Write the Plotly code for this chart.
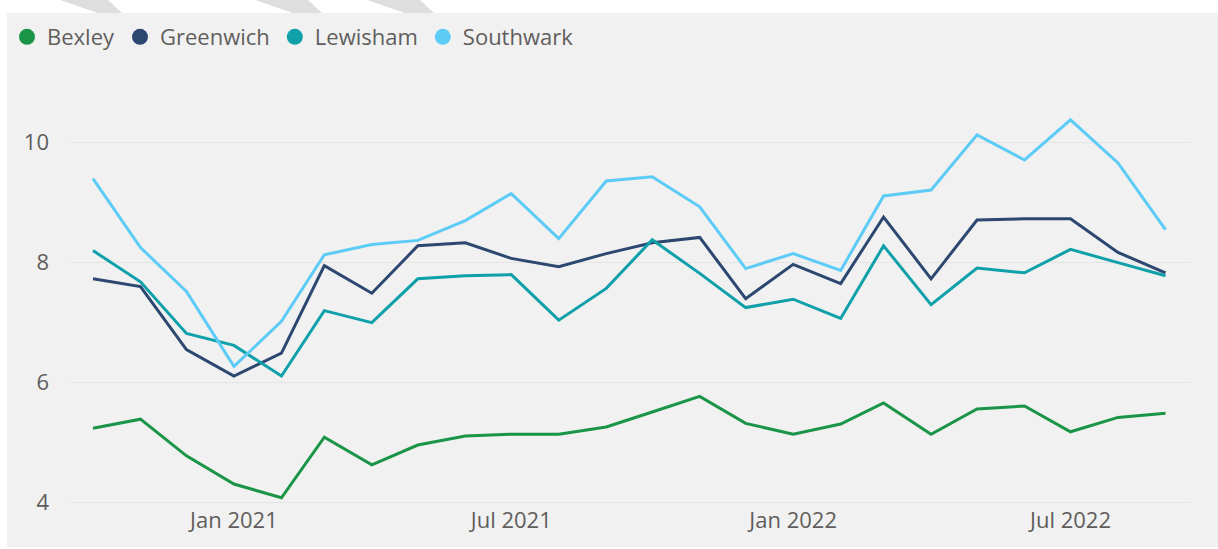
import plotly.graph_objects as go

months = [
    "2020-10-01", "2020-11-01", "2020-12-01", "2021-01-01", "2021-02-01", "2021-03-01",
    "2021-04-01", "2021-05-01", "2021-06-01", "2021-07-01", "2021-08-01", "2021-09-01",
    "2021-10-01", "2021-11-01", "2021-12-01", "2022-01-01", "2022-02-01", "2022-03-01",
    "2022-04-01", "2022-05-01", "2022-06-01", "2022-07-01", "2022-08-01", "2022-09-01",
]

bexley = [5.23, 5.38, 4.77, 4.30, 4.07, 5.08, 4.62, 4.95, 5.10, 5.13, 5.13, 5.25,
          5.50, 5.76, 5.31, 5.13, 5.30, 5.65, 5.13, 5.55, 5.60, 5.17, 5.41, 5.48]
greenwich = [7.72, 7.59, 6.54, 6.10, 6.48, 7.94, 7.48, 8.27, 8.32, 8.06, 7.92, 8.14,
             8.32, 8.41, 7.39, 7.96, 7.64, 8.75, 7.72, 8.70, 8.72, 8.72, 8.16, 7.82]
lewisham = [8.19, 7.67, 6.81, 6.61, 6.10, 7.19, 6.99, 7.72, 7.77, 7.79, 7.03, 7.56,
            8.37, 7.81, 7.24, 7.38, 7.06, 8.27, 7.29, 7.90, 7.82, 8.21, 7.99, 7.77]
southwark = [9.39, 8.24, 7.51, 6.26, 7.01, 8.12, 8.29, 8.36, 8.69, 9.14, 8.39, 9.35,
             9.42, 8.92, 7.89, 8.14, 7.86, 9.10, 9.20, 10.12, 9.70, 10.37, 9.65, 8.54]

names = ["Bexley", "Greenwich", "Lewisham", "Southwark"]
colors = ["#1a9446", "#2c4770", "#0fa0aa", "#5ccbf6"]
series = [bexley, greenwich, lewisham, southwark]

fig = go.Figure()
for name, color, vals in zip(names, colors, series):
    fig.add_trace(go.Scatter(
        x=months, y=vals, mode="lines", name=name,
        line=dict(color=color, width=3),
        showlegend=False, hoverinfo="x+y+name",
    ))
    # circle markers for the legend only
    fig.add_trace(go.Scatter(
        x=[None], y=[None], mode="markers", name=name,
        marker=dict(color=color, size=19),
    ))

# plot area in pixels: left 70, right 1190, top 70, bottom 505
L, R, T, B = 70, 1190, 70, 505


def px(x):
    return (x - L) / (R - L)


def py(y):
    return (B - y) / (B - T)


shapes = [dict(
    type="rect", xref="paper", yref="paper", layer="below",
    x0=px(7), x1=px(1218), y0=py(547), y1=py(13),
    fillcolor="#f1f1f1", line=dict(width=0),
)]
# faint diagonal stripes at the very top
for a, b in [(60, 108), (255, 308), (367, 420)]:
    path = "M {} {} L {} {} L {} {} L {} {} Z".format(
        px(a), py(0), px(b), py(0), px(b + 14), py(13), px(a + 38), py(13))
    shapes.append(dict(type="path", xref="paper", yref="paper", layer="below",
                       path=path, fillcolor="#dedede", line=dict(width=0)))

fig.update_layout(
    width=1218, height=549,
    margin=dict(l=L, r=1218 - R, t=T, b=549 - B, autoexpand=False),
    paper_bgcolor="white", plot_bgcolor="#f1f1f1",
    font=dict(family="Open Sans, DejaVu Sans, sans-serif", color="#605e5c", size=22),
    shapes=shapes,
    showlegend=True,
    legend=dict(
        orientation="h", x=px(7), y=py(37), xanchor="left", yanchor="middle",
        bgcolor="rgba(0,0,0,0)", font=dict(size=22, color="#605e5c"),
        itemwidth=30, tracegroupgap=0,
    ),
    xaxis=dict(
        range=["2020-09-16", "2022-09-17"],
        tick0="2021-01-01", dtick="M6", tickformat="%b %Y",
        showgrid=False, zeroline=False, showline=False, ticks="",
        tickfont=dict(size=22, color="#605e5c"),
    ),
    yaxis=dict(
        range=[3.95, 11.2], tickvals=[4, 6, 8, 10],
        showgrid=True, gridcolor="#e4e4e4", gridwidth=1,
        zeroline=False, showline=False, ticks="",
        ticklabelstandoff=20,
        tickfont=dict(size=22, color="#605e5c"),
    ),
)

# drop the default body margin so the figure sits at the page corner
fig.write_html("out.html", config={"displayModeBar": False},
               post_script="document.body.style.margin = '0';")
